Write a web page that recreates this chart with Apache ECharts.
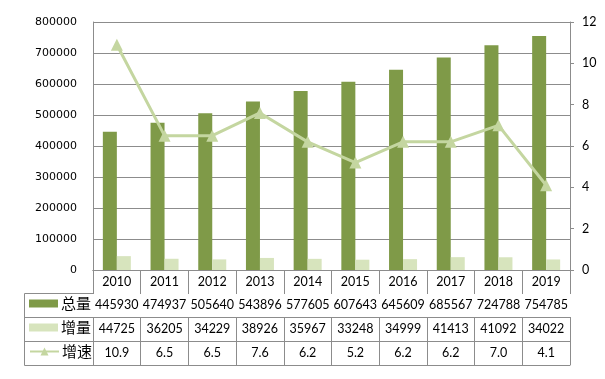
<!DOCTYPE html>
<html>
<head>
<meta charset="utf-8">
<script src="https://cdn.jsdelivr.net/npm/echarts@6/dist/echarts.min.js"></script>
<style>
html,body{margin:0;padding:0;background:#fff;}
#c{width:605px;height:379px;}
</style>
</head>
<body>
<div id="c"></div>
<script>
var years = ['2010','2011','2012','2013','2014','2015','2016','2017','2018','2019'];
var total = [445930,474937,505640,543896,577605,607643,645609,685567,724788,754785];
var increment = [44725,36205,34229,38926,35967,33248,34999,41413,41092,34022];
var rate = [10.9,6.5,6.5,7.6,6.2,5.2,6.2,6.2,7.0,4.1];
var leftTicks = [0,100000,200000,300000,400000,500000,600000,700000,800000];
var rightTicks = [0,2,4,6,8,10,12];

var GRAY = '#8c8c8c';
var NUMFONT = 'Lato';
var CJK = 'Noto Sans CJK SC';

function rowAxis(offset, tickLen, formatter, showLabel) {
  return {
    type: 'category', data: years, gridIndex: 0, position: 'bottom', offset: offset,
    boundaryGap: true,
    axisLine: { show: true, lineStyle: { color: GRAY, width: 1 } },
    axisTick: { show: tickLen > 0, length: tickLen, interval: 0, lineStyle: { color: GRAY } },
    axisLabel: { show: showLabel, interval: 0, margin: 11.5, verticalAlign: 'middle',
      color: '#000', fontSize: 12.5, fontFamily: NUMFONT, formatter: formatter },
    splitLine: { show: false }
  };
}

var chart = echarts.init(document.getElementById('c'), null, { renderer: 'canvas' });
chart.setOption({
  animation: false,
  backgroundColor: '#fff',
  grid: { left: 93, right: 35, top: 22, bottom: 109, containLabel: false },
  legend: [
    { data: ['总量'], left: 29, top: 296, padding: 0, itemWidth: 29, itemHeight: 8, itemGap: 0,
      icon: 'rect', textStyle: { fontSize: 15, fontFamily: CJK, color: '#000', padding: [0,0,0,-2] }, selectedMode: false },
    { data: ['增量'], left: 29, top: 320, padding: 0, itemWidth: 29, itemHeight: 8, itemGap: 0,
      icon: 'rect', textStyle: { fontSize: 15, fontFamily: CJK, color: '#000', padding: [0,0,0,-2] }, selectedMode: false },
    { data: ['增速'], left: 29, top: 344, padding: 0, itemWidth: 29, itemHeight: 10, itemGap: 0,
      textStyle: { fontSize: 15, fontFamily: CJK, color: '#000', padding: [0,0,0,-2] }, selectedMode: false }
  ],
  xAxis: [
    rowAxis(0, 23, function (v) { return v; }, true),
    rowAxis(23, 24, function (v, i) { return String(total[i]); }, true),
    rowAxis(47, 24, function (v, i) { return String(increment[i]); }, true),
    rowAxis(71, 24, function (v, i) { return rate[i].toFixed(1); }, true),
    rowAxis(95, 0, function () { return ''; }, false)
  ],
  yAxis: [
    { type: 'value', min: leftTicks[0], max: leftTicks[leftTicks.length - 1], interval: leftTicks[1] - leftTicks[0],
      axisLine: { show: true, lineStyle: { color: GRAY } },
      axisTick: { show: false },
      axisLabel: { margin: 16, color: '#000', fontSize: 11, fontFamily: 'DejaVu Sans',
        formatter: function (v) { return String(v); } },
      splitLine: { show: true, lineStyle: { color: GRAY, width: 1 } } },
    { type: 'value', min: rightTicks[0], max: rightTicks[rightTicks.length - 1], interval: rightTicks[1] - rightTicks[0],
      position: 'right',
      axisLine: { show: true, lineStyle: { color: GRAY } },
      axisTick: { show: true, length: 4, lineStyle: { color: GRAY } },
      axisLabel: { margin: 12, color: '#000', fontSize: 12.5, fontFamily: NUMFONT },
      splitLine: { show: false } }
  ],
  graphic: [
    { type: 'line', shape: { x1: 24.5, y1: 293.5, x2: 24.5, y2: 365.5 }, style: { stroke: GRAY, lineWidth: 1 } },
    { type: 'line', shape: { x1: 24.5, y1: 293.5, x2: 93, y2: 293.5 }, style: { stroke: GRAY, lineWidth: 1 } },
    { type: 'line', shape: { x1: 24.5, y1: 317.5, x2: 93, y2: 317.5 }, style: { stroke: GRAY, lineWidth: 1 } },
    { type: 'line', shape: { x1: 24.5, y1: 341.5, x2: 93, y2: 341.5 }, style: { stroke: GRAY, lineWidth: 1 } },
    { type: 'line', shape: { x1: 24.5, y1: 365.5, x2: 93, y2: 365.5 }, style: { stroke: GRAY, lineWidth: 1 } }
  ],
  series: [
    { name: '总量', type: 'bar', data: total, xAxisIndex: 0, yAxisIndex: 0,
      barWidth: 14, barGap: '0%', itemStyle: { color: '#7F9A48' } },
    { name: '增量', type: 'bar', data: increment, xAxisIndex: 0, yAxisIndex: 0,
      barWidth: 14, barGap: '0%', itemStyle: { color: '#D7E4BD' } },
    { name: '增速', type: 'line', data: rate, xAxisIndex: 0, yAxisIndex: 1,
      symbol: 'triangle', symbolSize: 12, z: 5,
      lineStyle: { color: '#C4D6A0', width: 3 }, itemStyle: { color: '#C4D6A0' } }
  ]
});
</script>
</body>
</html>
